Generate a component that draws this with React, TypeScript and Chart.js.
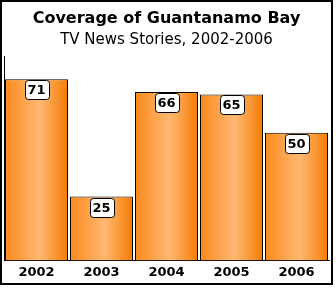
import React, { useEffect, useRef } from "react";
import { Chart, registerables } from "chart.js";

Chart.register(...registerables);

const years = ["2002", "2003", "2004", "2005", "2006"];
const stories = [71, 25, 66, 65, 50];
const titleText = "Coverage of Guantanamo Bay";
const subtitleText = "TV News Stories, 2002-2006";
const yMax = 80;

const FONT = "'DejaVu Sans', Verdana, sans-serif";

const frame = {
  id: "frame",
  afterDraw(chart: any) {
    const ctx = chart.ctx;
    ctx.save();
    ctx.strokeStyle = "#000";
    ctx.lineWidth = 2;
    ctx.strokeRect(1, 1, 331, 283);
    ctx.restore();
  },
};

const cylinder = {
  id: "cylinder",
  beforeDatasetsDraw(chart: any) {
    const ctx = chart.ctx;
    const meta = chart.getDatasetMeta(0);
    meta.data.forEach((bar: any) => {
      const half = bar.width / 2;
      if (!isFinite(bar.x) || !isFinite(half)) return;
      const g = ctx.createLinearGradient(bar.x - half, 0, bar.x + half, 0);
      g.addColorStop(0, "#fb8a1c");
      g.addColorStop(0.55, "#ffb873");
      g.addColorStop(1, "#f57c02");
      bar.options = { ...bar.options, backgroundColor: g };
    });
  },
};

const valueBoxes = {
  id: "valueBoxes",
  afterDatasetsDraw(chart: any) {
    const ctx = chart.ctx;
    const meta = chart.getDatasetMeta(0);
    ctx.save();
    ctx.font = `bold 13px ${FONT}`;
    ctx.textAlign = "center";
    ctx.textBaseline = "middle";
    meta.data.forEach((bar: any, i: number) => {
      const text = String(stories[i]);
      const tw = ctx.measureText(text).width;
      const w = Math.round(tw + 6);
      const h = 19;
      const x = Math.round(bar.x - w / 2) + 0.5;
      const y = Math.round(bar.y) + 1.5;
      ctx.beginPath();
      if ((ctx as any).roundRect) (ctx as any).roundRect(x, y, w, h, 3);
      else ctx.rect(x, y, w, h);
      ctx.fillStyle = "#fff";
      ctx.fill();
      ctx.strokeStyle = "#000";
      ctx.lineWidth = 1;
      ctx.stroke();
      ctx.fillStyle = "#000";
      ctx.fillText(text, bar.x, y + h / 2 + 0.5);
    });
    ctx.restore();
  },
};

export default function App() {
  const ref = useRef<HTMLCanvasElement>(null);
  useEffect(() => {
    document.body.style.margin = "0";
    const canvas = ref.current!;
    const chart = new Chart(canvas, {
      type: "bar",
      data: {
        labels: years,
        datasets: [
          {
            data: stories,
            backgroundColor: "#ff9a33",
            borderColor: "#000",
            borderWidth: 1,
            borderSkipped: "bottom",
            barPercentage: 63 / 65,
            categoryPercentage: 1,
          },
        ],
      },
      options: {
        responsive: false,
        animation: false,
        layout: { padding: { left: 4, right: 7, top: 0, bottom: 4 } },
        plugins: {
          legend: { display: false },
          tooltip: { enabled: false },
          title: {
            display: true,
            text: titleText,
            color: "#000",
            font: { family: FONT, size: 16, weight: "bold" },
            padding: { top: 9, bottom: 0 },
          },
          subtitle: {
            display: true,
            text: subtitleText,
            color: "#000",
            font: { family: FONT, size: 15, weight: "normal" },
            padding: { top: 3, bottom: 7 },
          },
        },
        scales: {
          x: {
            grid: { display: false, drawTicks: false },
            border: { display: true, color: "#000", width: 1 },
            ticks: {
              color: "#000",
              font: { family: FONT, size: 13, weight: "bold" },
              padding: 4,
            },
          },
          y: {
            min: 0,
            max: yMax,
            grid: { display: false, drawTicks: false },
            border: { display: true, color: "#000", width: 1 },
            ticks: { display: false },
          },
        },
      },
      plugins: [cylinder, valueBoxes, frame],
    } as any);
    return () => chart.destroy();
  }, []);
  return <canvas ref={ref} width={336} height={288} style={{ display: "block" }} />;
}
